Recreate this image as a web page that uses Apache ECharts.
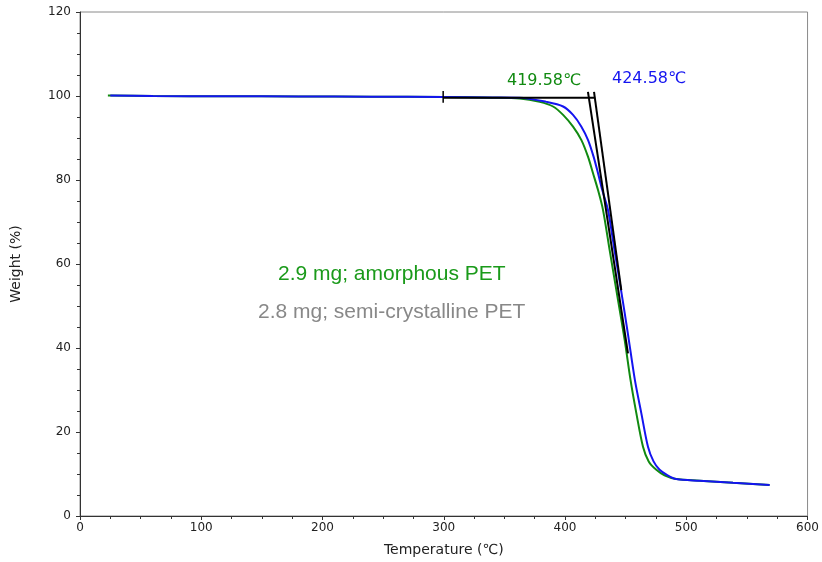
<!DOCTYPE html>
<html>
<head>
    <meta charset="utf-8" />
    <script src="https://cdn.jsdelivr.net/npm/echarts@6/dist/echarts.min.js"></script>
    <style>
        body, html { margin: 0; padding: 0; background: #fff; }
        #main { width: 822px; height: 562px; }
    </style>
</head>
<body>
<div id="main"></div>
<script>
    // amorphous PET (green)
    var amorphT = [23, 60, 120, 180, 240, 300, 340, 362.6, 379.1, 390.1, 398.4, 406.6, 413.5, 419.0, 423.1, 427.2, 431.3, 436.8, 443.7, 449.2, 454.0, 458.8, 464.3, 469, 475.3, 482, 491.7, 511, 538.5, 568.7];
    var amorphW = [100.1, 100.0, 99.95, 99.9, 99.85, 99.75, 99.6, 99.4, 98.6, 97.5, 95.5, 92.7, 89.5, 85.5, 81.6, 77.6, 72.9, 63.3, 51.4, 41.9, 32.4, 24.5, 16.5, 13.0, 11.0, 9.7, 8.8, 8.4, 7.9, 7.4];
    // semi-crystalline PET (blue)
    var semiT = [25, 60, 120, 180, 240, 300, 340, 362.6, 384.6, 398.4, 406.6, 413.5, 419.0, 423.6, 427.2, 430.7, 435.4, 440.8, 446.2, 451.8, 457.6, 462.9, 468.4, 473, 478, 484, 491.7, 511, 538.5, 568.7];
    var semiW = [100.1, 100.0, 99.95, 99.9, 99.85, 99.75, 99.65, 99.6, 98.6, 97.5, 95.5, 92.7, 89.5, 85.5, 81.6, 77.6, 72.9, 63.3, 53.8, 43.5, 32.4, 24.5, 16.5, 13.0, 11.0, 9.8, 8.8, 8.4, 7.9, 7.4];

    // onset construction lines
    var baseLine = [[299.5, 99.6], [424.6, 99.6]];
    var baseTick = [[299.5, 98.4], [299.5, 101.2]];
    var tangentAmorph = [[418.9, 101.0], [451.9, 38.7]];
    var tangentSemi = [[423.9, 101.0], [446.4, 53.8]];
    var onsetLabels = ['419.58℃', '424.58℃'];

    function pairs(xs, ys) {
        var out = [];
        for (var i = 0; i < xs.length; i++) out.push([xs[i], ys[i]]);
        return out;
    }

    var green = '#118a11';
    var blue = '#1414f0';
    var tickFont = { fontFamily: 'DejaVu Sans', fontSize: 12, color: '#222' };

    var chart = echarts.init(document.getElementById('main'));
    var option = {
        animation: false,
        grid: { left: 80, right: 14, top: 12, bottom: 46, show: true, borderColor: '#8a8a8a', borderWidth: 1 },
        xAxis: {
            type: 'value', min: 0, max: 600, interval: 100,
            name: 'Temperature (℃)', nameLocation: 'middle', nameGap: 27,
            nameTextStyle: { fontFamily: 'DejaVu Sans', fontSize: 14, color: '#222' },
            axisLine: { lineStyle: { color: '#333', width: 1 } },
            axisTick: { length: 4, lineStyle: { color: '#333' } },
            minorTick: { show: true, splitNumber: 4, length: 3, lineStyle: { color: '#333' } },
            axisLabel: Object.assign({ margin: 6 }, tickFont),
            splitLine: { show: false }
        },
        yAxis: {
            type: 'value', min: 0, max: 120, interval: 20,
            name: 'Weight (%)', nameLocation: 'middle', nameGap: 57, nameRotate: 90,
            nameTextStyle: { fontFamily: 'DejaVu Sans', fontSize: 14, color: '#222' },
            axisLine: { show: true, lineStyle: { color: '#333', width: 1 } },
            axisTick: { show: true, length: 4, lineStyle: { color: '#333' } },
            minorTick: { show: true, splitNumber: 4, length: 3, lineStyle: { color: '#333' } },
            axisLabel: Object.assign({ margin: 9 }, tickFont),
            splitLine: { show: false }
        },
        series: [
            { type: 'line', data: pairs(amorphT, amorphW), showSymbol: false, smooth: 0.3,
              lineStyle: { color: green, width: 2 }, z: 3 },
            { type: 'line', data: pairs(semiT, semiW), showSymbol: false, smooth: 0.3,
              lineStyle: { color: blue, width: 2 }, z: 4 },
            { type: 'line', data: baseLine, showSymbol: false, lineStyle: { color: '#000', width: 2 }, z: 5 },
            { type: 'line', data: baseTick, showSymbol: false, lineStyle: { color: '#000', width: 1.5 }, z: 5 },
            { type: 'line', data: tangentAmorph, showSymbol: false, lineStyle: { color: '#000', width: 2 }, z: 5 },
            { type: 'line', data: tangentSemi, showSymbol: false, lineStyle: { color: '#000', width: 2 }, z: 5 }
        ],
        graphic: [
            { type: 'text', left: 507, top: 73, style: { text: onsetLabels[0], fill: green, font: '16px "DejaVu Sans"' } },
            { type: 'text', left: 612, top: 71, style: { text: onsetLabels[1], fill: blue, font: '16px "DejaVu Sans"' } },
            { type: 'text', left: 278, top: 264, style: { text: '2.9 mg; amorphous PET', fill: '#1a9a1a', font: '21px "Liberation Sans"' } },
            { type: 'text', left: 258, top: 302, style: { text: '2.8 mg; semi-crystalline PET', fill: '#888888', font: '21px "Liberation Sans"' } }
        ]
    };
    chart.setOption(option);
</script>
</body>
</html>
